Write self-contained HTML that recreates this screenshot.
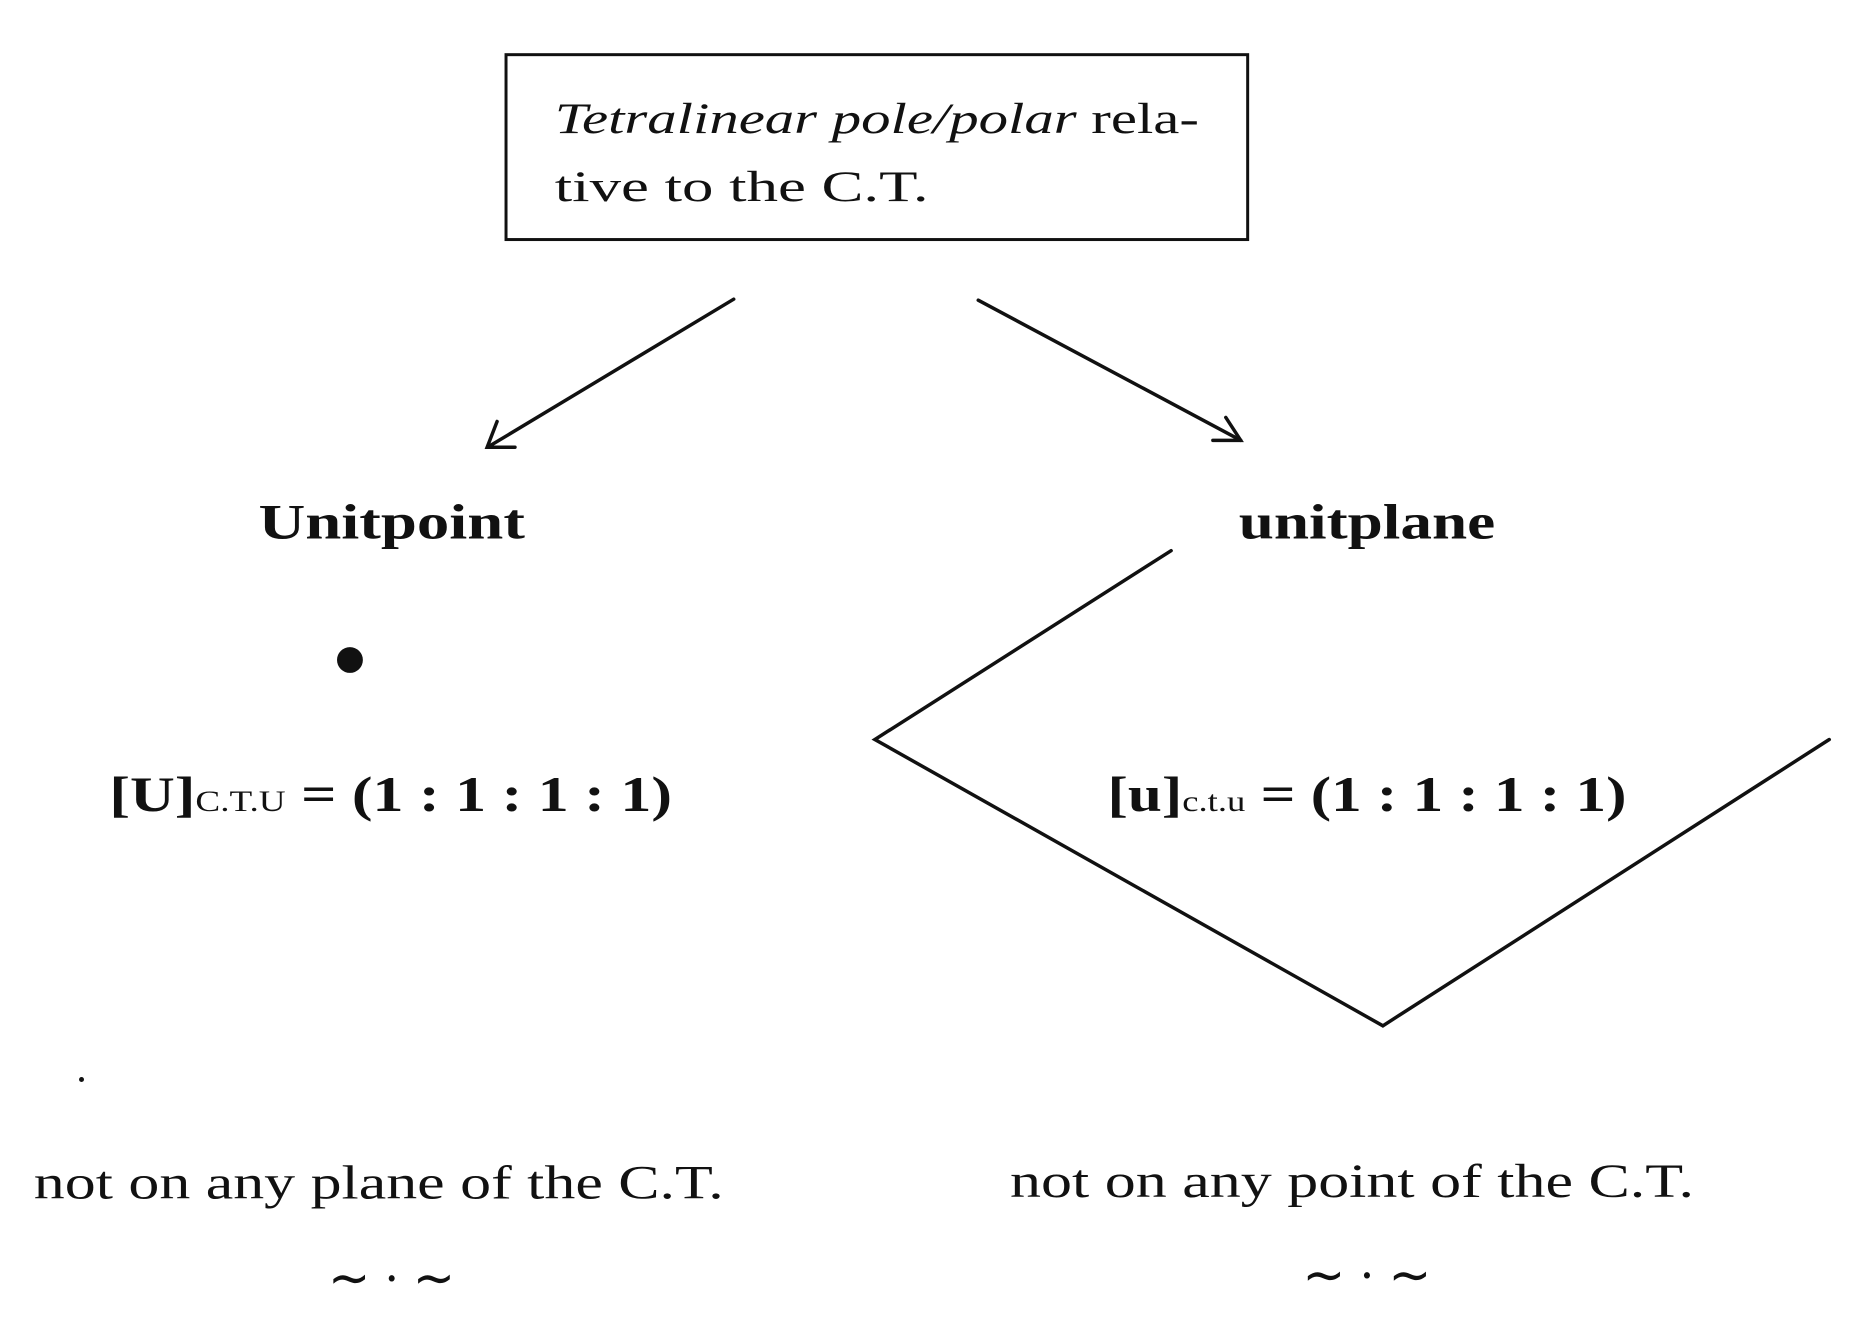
<!DOCTYPE html>
<html><head><meta charset="utf-8"><style>html,body{margin:0;padding:0;background:#fff}</style></head>
<body>
<svg width="1872" height="1322" viewBox="0 0 1883 1330" preserveAspectRatio="none" xmlns="http://www.w3.org/2000/svg" font-family="Liberation Serif, serif" fill="#111">
<rect x="509" y="55" width="746" height="186" fill="none" stroke="#111" stroke-width="3"/>
<text x="558" y="134" font-size="44" textLength="648" lengthAdjust="spacingAndGlyphs"><tspan font-style="italic">Tetralinear pole/polar</tspan> rela-</text>
<text x="558" y="202" font-size="44" textLength="376" lengthAdjust="spacingAndGlyphs">tive to the C.T.</text>
<g stroke="#111" stroke-width="3.5" fill="none" stroke-linecap="round">
<line x1="738" y1="301" x2="492" y2="449"/>
<polyline points="500,424 490,450 518,450"/>
<line x1="984" y1="302" x2="1248" y2="443"/>
<polyline points="1233,420 1248,443 1220,443"/>
<polyline points="1178,554 880,744 1391,1032 1840,744" stroke-linejoin="miter"/>
</g>
<text x="260" y="542" font-size="50" font-weight="bold" textLength="268" lengthAdjust="spacingAndGlyphs">Unitpoint</text>
<text x="1246" y="542" font-size="50" font-weight="bold" textLength="258" lengthAdjust="spacingAndGlyphs">unitplane</text>
<circle cx="352" cy="664" r="13"/>
<circle cx="82" cy="1086" r="2.5"/>
<text x="110" y="816" font-size="50" font-weight="bold" textLength="566" lengthAdjust="spacingAndGlyphs">[U]<tspan font-size="30" font-weight="normal">C.T.U</tspan> = (1 : 1 : 1 : 1)</text>
<text x="1114" y="816" font-size="50" font-weight="bold" textLength="522" lengthAdjust="spacingAndGlyphs">[u]<tspan font-size="30" font-weight="normal">c.t.u</tspan> = (1 : 1 : 1 : 1)</text>
<text x="34" y="1206" font-size="48" textLength="694" lengthAdjust="spacingAndGlyphs">not on any plane of the C.T.</text>
<text x="1016" y="1204" font-size="48" textLength="688" lengthAdjust="spacingAndGlyphs">not on any point of the C.T.</text>
<text x="330" y="1304" font-size="54" textLength="128" lengthAdjust="spacingAndGlyphs">∼ · ∼</text>
<text x="1310" y="1301" font-size="54" textLength="130" lengthAdjust="spacingAndGlyphs">∼ · ∼</text>
</svg>
</body></html>
